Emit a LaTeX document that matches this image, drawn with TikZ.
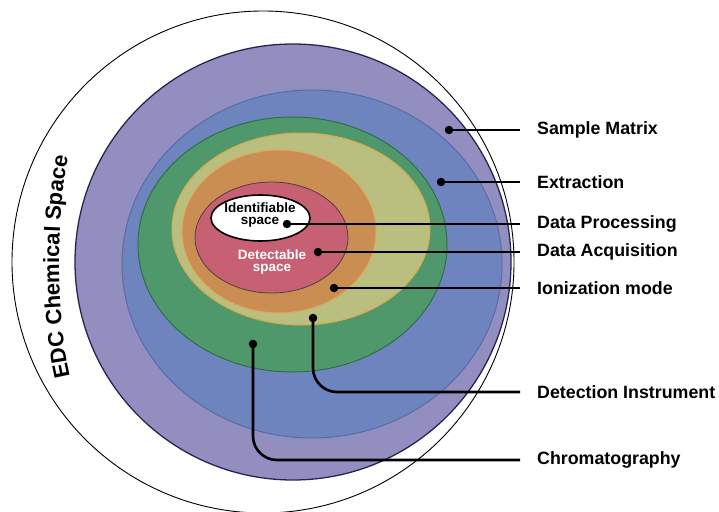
\documentclass[tikz,border=0pt]{standalone}
\usepackage{fontspec}
\setmainfont{Liberation Sans}
\usetikzlibrary{decorations.text}
\definecolor{matrixpurple}{RGB}{146,142,192}
\definecolor{matrixline}{RGB}{40,36,82}
\definecolor{extractblue}{RGB}{110,132,190}
\definecolor{extractline}{RGB}{88,108,170}
\definecolor{chromgreen}{RGB}{78,152,108}
\definecolor{chromline}{RGB}{48,110,72}
\definecolor{instryellow}{RGB}{186,190,126}
\definecolor{instrline}{RGB}{214,172,74}
\definecolor{ionorange}{RGB}{202,142,82}
\definecolor{ionline}{RGB}{224,168,92}
\definecolor{detectred}{RGB}{200,96,116}
\definecolor{detectline}{RGB}{84,62,62}

\begin{document}
\begin{tikzpicture}[
    x=1pt, y=1pt,
    ring/.style={line width=1pt},
    dot/.style={circle, fill=black, inner sep=0pt, minimum size=8.5pt},
    layerlabel/.style={anchor=west, inner xsep=17pt, font=\fontsize{17.8}{20}\selectfont\bfseries},
    spacetext/.style={align=center, font=\fontsize{13.5}{12.5}\selectfont\bfseries},
    leader/.style={line width=2.6pt, rounded corners=24pt}
]
\useasboundingbox (0,0) rectangle (719,-511);

% nested spaces
\draw[line width=0.9pt, fill=white] (263,-262) circle[radius=251];
\draw[ring, fill=matrixpurple, draw=matrixline, line width=1.3pt] (293,-262) circle[radius=218];
\draw[ring, fill=extractblue, draw=extractline] (312,-264) ellipse[x radius=190, y radius=174];
\draw[ring, fill=chromgreen, draw=chromline] (292.5,-244.5) ellipse[x radius=154.5, y radius=127.5];
\draw[ring, fill=instryellow, draw=instrline] (301,-229) ellipse[x radius=129, y radius=96];
\draw[ring, fill=ionorange, draw=ionline] (279,-231.5) ellipse[x radius=97, y radius=81.5];
\draw[ring, fill=detectred, draw=detectline, line width=0.8pt] (271.5,-237.5) ellipse[x radius=76.5, y radius=55.5];
\draw[fill=white, draw=black, line width=1.6pt] (260.5,-218) ellipse[x radius=49.5, y radius=23];

\node[spacetext] (ident) at (260,-215) {Identifiable\\space};
\node[spacetext, text=white] (detect) at (272,-262) {Detectable\\space};

\path[decorate, decoration={text along path, text align=center,
    text={|\fontsize{22}{22}\selectfont\bfseries|EDC Chemical Space}}]
    (73,-387) .. controls (55,-330) and (55,-200) .. (71,-146);

% markers and labels
\node[dot] (dSample) at (449,-130) {};
\node[dot] (dExtract) at (441,-182) {};
\node[dot] (dProcess) at (287,-224) {};
\node[dot] (dAcquire) at (318,-252) {};
\node[dot] (dIon) at (334,-288) {};
\node[dot] (dDetect) at (313,-318) {};
\node[dot] (dChrom) at (253,-344) {};

\node[layerlabel] (lSample) at (520,-130) {Sample Matrix};
\node[layerlabel] (lExtract) at (520,-182) {Extraction};
\node[layerlabel] (lProcess) at (520,-224) {Data Processing};
\node[layerlabel] (lAcquire) at (520,-252) {Data Acquisition};
\node[layerlabel] (lIon) at (520,-288) {Ionization mode};
\node[layerlabel] (lDetect) at (520,-392) {Detection Instrument};
\node[layerlabel] (lChrom) at (520,-460) {Chromatography};

\draw[leader] (dSample.center) -- (lSample.west);
\draw[leader] (dExtract.center) -- (lExtract.west);
\draw[leader] (dProcess.center) -- (lProcess.west);
\draw[leader] (dAcquire.center) -- (lAcquire.west);
\draw[leader] (dIon.center) -- (lIon.west);
\draw[leader] (dDetect.center) |- (lDetect.west);
\draw[leader] (dChrom.center) |- (lChrom.west);
\end{tikzpicture}
\end{document}
